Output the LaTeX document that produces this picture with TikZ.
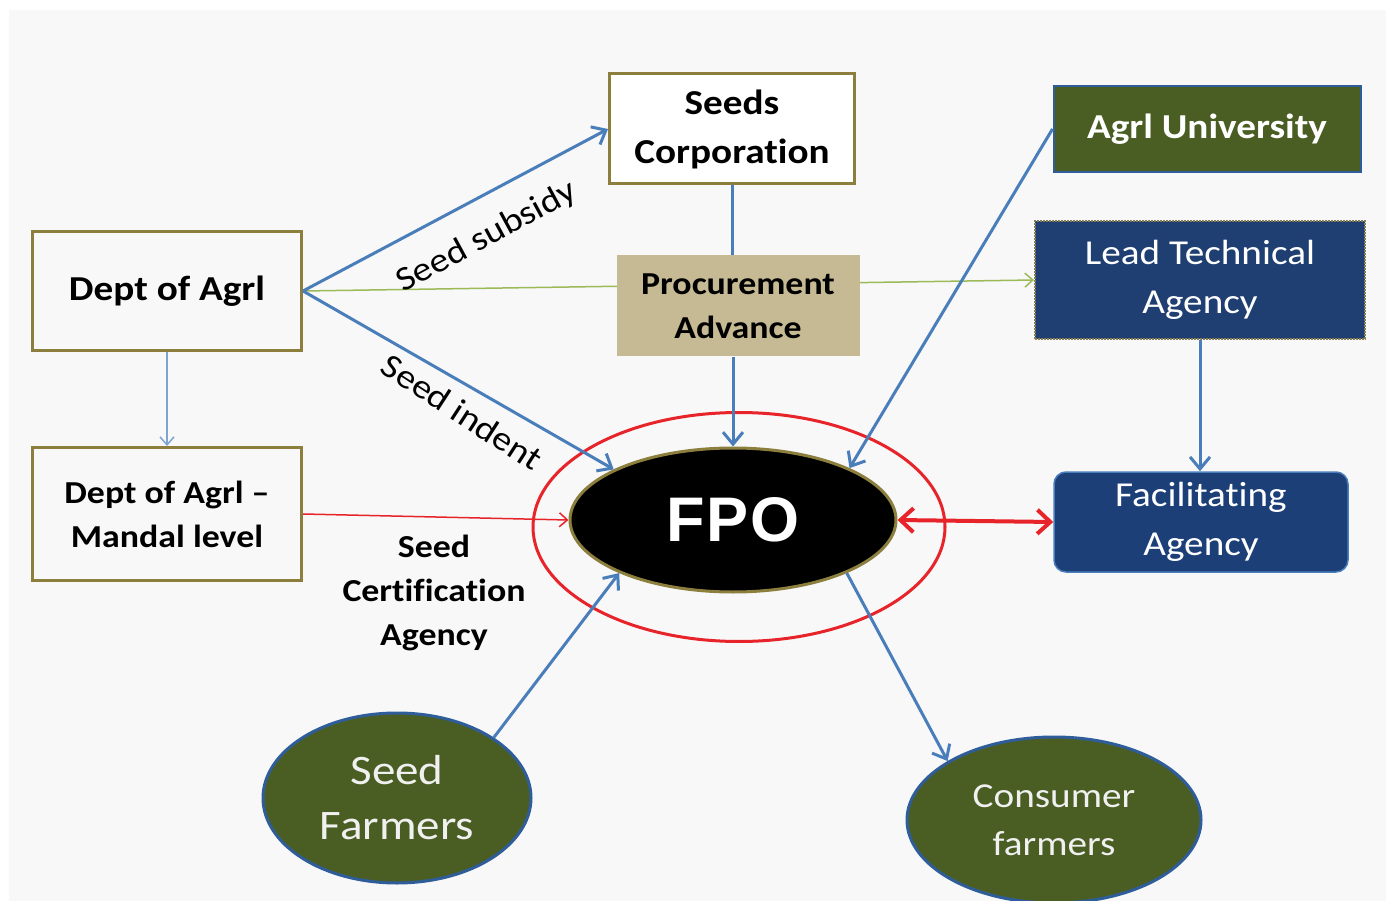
\documentclass[tikz,border=0pt]{standalone}
\usepackage{fontspec}
\usetikzlibrary{shapes.geometric,arrows.meta}
\newfontfamily\cf{Carlito}[FakeStretch=1.12,Ligatures={TeX,NoCommon}]
\newfontfamily\af{Liberation Sans}
\definecolor{boxolive}{HTML}{8C7F3E}
\definecolor{procfill}{HTML}{C5BA93}
\definecolor{univgreen}{HTML}{4A5E23}
\definecolor{ltablue}{HTML}{1F3F73}
\definecolor{facblue}{HTML}{1C3F78}
\definecolor{arrblue}{HTML}{4A7EBB}
\definecolor{lightblue}{HTML}{7FA3D3}
\definecolor{ringred}{HTML}{E8242B}
\definecolor{linegreen}{HTML}{9BBB59}
\definecolor{bggray}{HTML}{F8F8F8}
\definecolor{ellblue}{HTML}{2F5D9A}
\pgfdeclarelayer{bgzero}
\pgfdeclarelayer{bgone}
\pgfsetlayers{bgzero,bgone,main}
\tikzset{
  boxo/.style={rectangle, draw=boxolive, line width=3pt, align=center, inner sep=0pt, text=black},
  bigfont/.style={font=\cf\bfseries\fontsize{35}{49}\selectfont},
  midfont/.style={font=\cf\bfseries\fontsize{32}{44}\selectfont},
  whitefont/.style={font=\cf\fontsize{35}{49}\selectfont},
  farmer/.style={ellipse, fill=univgreen, draw=ellblue, line width=3pt, text=white!94!black, align=center, inner sep=0pt},
  arr/.style={draw=arrblue, line width=3pt, -{Straight Barb[length=12pt,width=20pt,line width=3pt]}},
  thinarr/.style={line width=1.5pt, -{Straight Barb[length=8pt,width=14pt,line width=1.5pt]}},
  lbl/.style={font=\cf\fontsize{34}{40}\selectfont, inner sep=0pt},
}
\begin{document}
\begin{tikzpicture}[x=1pt,y=-1pt]
\useasboundingbox (0,0) rectangle (1390,901);
\begin{pgfonlayer}{bgzero}
\fill[white] (0,0) rectangle (1390,901);
\fill[bggray] (9,10) rectangle (1386,901);
\end{pgfonlayer}

% boxes
\node[boxo, bigfont, minimum width=269pt, minimum height=119pt] (dept) at (167,291) {Dept of Agrl};
\node[boxo, midfont, minimum width=269pt, minimum height=133pt] (mandal) at (167,514) {Dept of Agrl –\\Mandal level};
\node[boxo, bigfont, fill=white, minimum width=245pt, minimum height=110pt] (seedc) at (732,129) {Seeds\\Corporation};
\node[rectangle, fill=procfill, midfont, align=center, inner sep=0pt, minimum width=243pt, minimum height=101pt] (proc) at (738,306) {Procurement\\Advance};
\node[rectangle, fill=univgreen, draw=ellblue, line width=2pt, font=\cf\bfseries\fontsize{35}{49}\selectfont, text=white, inner sep=0pt, minimum width=307pt, minimum height=86pt] (univ) at (1207,129) {Agrl University};
\node[rectangle, fill=ltablue, draw=boxolive!70!gray, densely dotted, line width=2pt, whitefont, text=white, align=center, inner sep=0pt, minimum width=330pt, minimum height=118pt] (lta) at (1200,280) {Lead Technical\\Agency};
\node[rectangle, rounded corners=12pt, fill=facblue, draw=arrblue, line width=1.5pt, whitefont, text=white, align=center, inner sep=0pt, minimum width=294pt, minimum height=100pt] (fac) at (1201,522) {Facilitating\\Agency};

% FPO
\node[ellipse, draw=ringred, line width=3pt, minimum width=412pt, minimum height=229pt] (ring) at (739,527) {};
\node[ellipse, fill=black, draw=boxolive, line width=3pt, minimum width=326pt, minimum height=144pt, inner sep=0pt, text=white, font=\af\bfseries\fontsize{63}{63}\selectfont] (fpo) at (733,520) {F\kern2pt P\kern2pt O};

% farmers
\node[farmer, minimum width=268pt, minimum height=170pt, font=\cf\fontsize{42}{55}\selectfont] (sfarm) at (397,798) {Seed\\Farmers};
\node[farmer, minimum width=294pt, minimum height=166pt, font=\cf\fontsize{35}{48}\selectfont] (cfarm) at (1054,820) {Consumer\\farmers};

% labels
\node[lbl, rotate=28.5] (lsub) at (487,237) {Seed subsidy};
\node[lbl, rotate=-33] (lind) at (462,412) {Seed indent};
\node[align=center, inner sep=0pt, font=\cf\bfseries\fontsize{32}{44}\selectfont] (sca) at (434,593) {Seed\\Certification\\Agency};

% connectors
\begin{pgfonlayer}{bgone}
\draw[thinarr, draw=linegreen] (dept.east) -- (lta.west);
\draw[draw=arrblue, line width=3pt] (seedc.south) -- (proc.north -| seedc.south);
\end{pgfonlayer}
\draw[arr] (dept.east) -- (seedc.west);
\draw[arr] (dept.east) -- (fpo.157);
\draw[thinarr, draw=lightblue] (dept.south) -- (mandal.north);
\draw[arr] (proc.south -| fpo.north) -- (fpo.north);
\draw[arr] (univ.west) -- (fpo.24);
\draw[arr] (lta.south) -- (fac.north -| lta.south);
\draw[thinarr, draw=ringred] (mandal.east) -- (fpo.west);
\draw[draw=ringred, line width=4pt, {Straight Barb[length=13pt,width=24pt,line width=4pt]}-{Straight Barb[length=13pt,width=24pt,line width=4pt]}] (fpo.east) -- (fac.west);
\draw[arr] (sfarm.32) -- (fpo.205);
\draw[arr] (fpo.335) -- (cfarm.151);
\end{tikzpicture}
\end{document}
